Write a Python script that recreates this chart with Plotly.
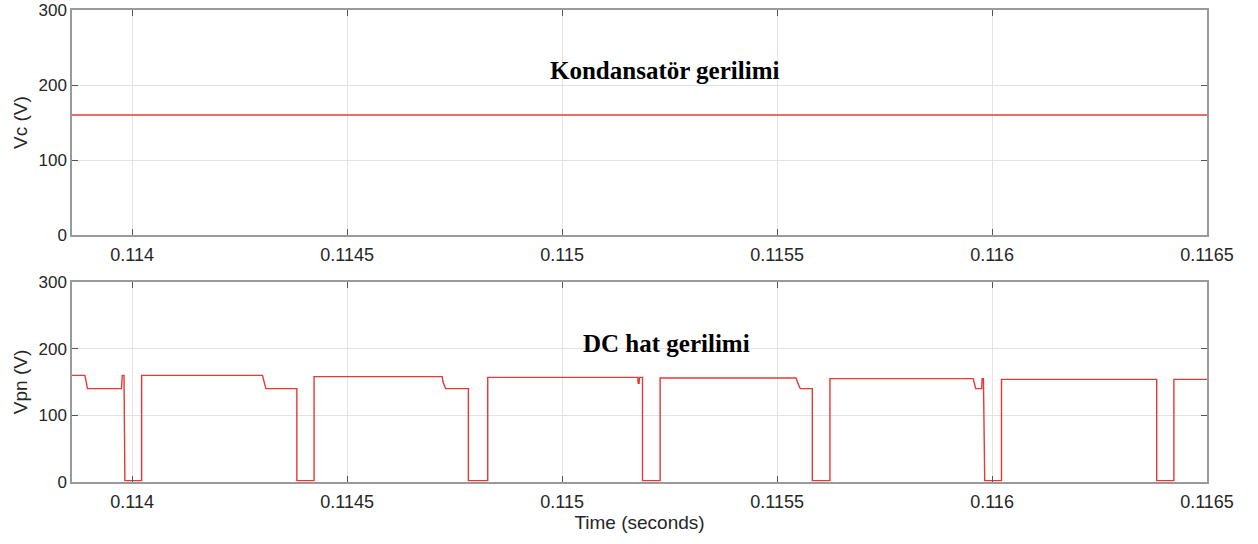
import plotly.graph_objects as go

# Capacitor voltage (constant over the window)
vc_time = [0.11386, 0.1165]
vc_volts = [160, 160]

# DC link voltage breakpoints (time in s, volts)
vpn_time = [
    0.11386, 0.113890, 0.113896, 0.113975, 0.113977, 0.113981, 0.113983,
    0.114022, 0.114022, 0.114303, 0.114311, 0.114383, 0.114383,
    0.114423, 0.114423, 0.114721, 0.114723, 0.114725, 0.114729, 0.114782, 0.114782,
    0.114827, 0.114827, 0.115176, 0.115177, 0.115179, 0.115180, 0.115187, 0.115187,
    0.115228, 0.115228, 0.115544, 0.115547, 0.115550, 0.115554, 0.115582, 0.115582,
    0.115623, 0.115623, 0.115956, 0.115959, 0.115962, 0.115976, 0.115977, 0.115980, 0.115983,
    0.116022, 0.116022, 0.116383, 0.116383,
    0.116423, 0.116423, 0.1165,
]
vpn_volts = [
    160, 160, 140, 140, 160, 160, 2,
    2, 160, 160, 140, 140, 2,
    2, 158, 158, 150, 146, 140, 140, 2,
    2, 157, 157, 148, 148, 157, 157, 2,
    2, 156, 156, 150, 146, 140, 140, 2,
    2, 155, 155, 148, 140, 140, 155, 155, 2,
    2, 154, 154, 2,
    2, 154, 154,
]

x_ticks = [0.114, 0.1145, 0.115, 0.1155, 0.116, 0.1165]
x_tick_text = ["0.114", "0.1145", "0.115", "0.1155", "0.116", "0.1165"]
y_ticks = [0, 100, 200, 300]

line_color = "rgb(228,58,52)"
sans = "Liberation Sans, Arial, sans-serif"
serif = "Liberation Serif, Times New Roman, serif"
x_tick_font = dict(family=sans, size=18, color="#262626")
y_tick_font = dict(family=sans, size=17, color="#262626")
title_font = dict(family=sans, size=19, color="#262626")

fig = go.Figure()
fig.add_trace(go.Scatter(x=vc_time, y=vc_volts, mode="lines",
                         line=dict(color=line_color, width=1.4),
                         xaxis="x", yaxis="y", showlegend=False))
fig.add_trace(go.Scatter(x=vpn_time, y=vpn_volts, mode="lines",
                         line=dict(color=line_color, width=1.4),
                         xaxis="x2", yaxis="y2", showlegend=False))

common_x = dict(range=[0.11386, 0.1165], tickvals=x_ticks, ticktext=x_tick_text,
                showgrid=True, gridcolor="#e3e3e3", gridwidth=1,
                ticks="inside", ticklen=6, tickcolor="#555", mirror="allticks",
                showline=True, linecolor="#9a9a9a", linewidth=1.5,
                tickfont=x_tick_font, ticklabelstandoff=3,
                zeroline=False, automargin=False)
common_y = dict(range=[0, 300], tickvals=y_ticks,
                showgrid=True, gridcolor="#e3e3e3", gridwidth=1,
                ticks="inside", ticklen=6, tickcolor="#555", mirror="allticks",
                showline=True, linecolor="#9a9a9a", linewidth=1.5,
                tickfont=y_tick_font, zeroline=False, automargin=False)

fig.update_layout(
    width=1258, height=544,
    margin=dict(l=72, r=51, t=10, b=62),
    plot_bgcolor="white", paper_bgcolor="white",
    xaxis=dict(common_x, domain=[0, 1], anchor="y"),
    yaxis=dict(common_y, domain=[0.5233, 1], anchor="x",
               title=dict(text="Vc (V)", font=title_font, standoff=6)),
    xaxis2=dict(common_x, domain=[0, 1], anchor="y2",
                title=dict(text="Time (seconds)", font=title_font, standoff=0)),
    yaxis2=dict(common_y, domain=[0, 0.4237], anchor="x2",
                title=dict(text="Vpn (V)", font=title_font, standoff=6)),
    annotations=[
        dict(text="<b>Kondansatör gerilimi</b>", x=0.115238, y=220, xref="x", yref="y",
             showarrow=False, font=dict(family=serif, size=25, color="black")),
        dict(text="<b>DC hat gerilimi</b>", x=0.115243, y=208, xref="x2", yref="y2",
             showarrow=False, font=dict(family=serif, size=25, color="black")),
    ],
)

fig.write_html("out.html")
